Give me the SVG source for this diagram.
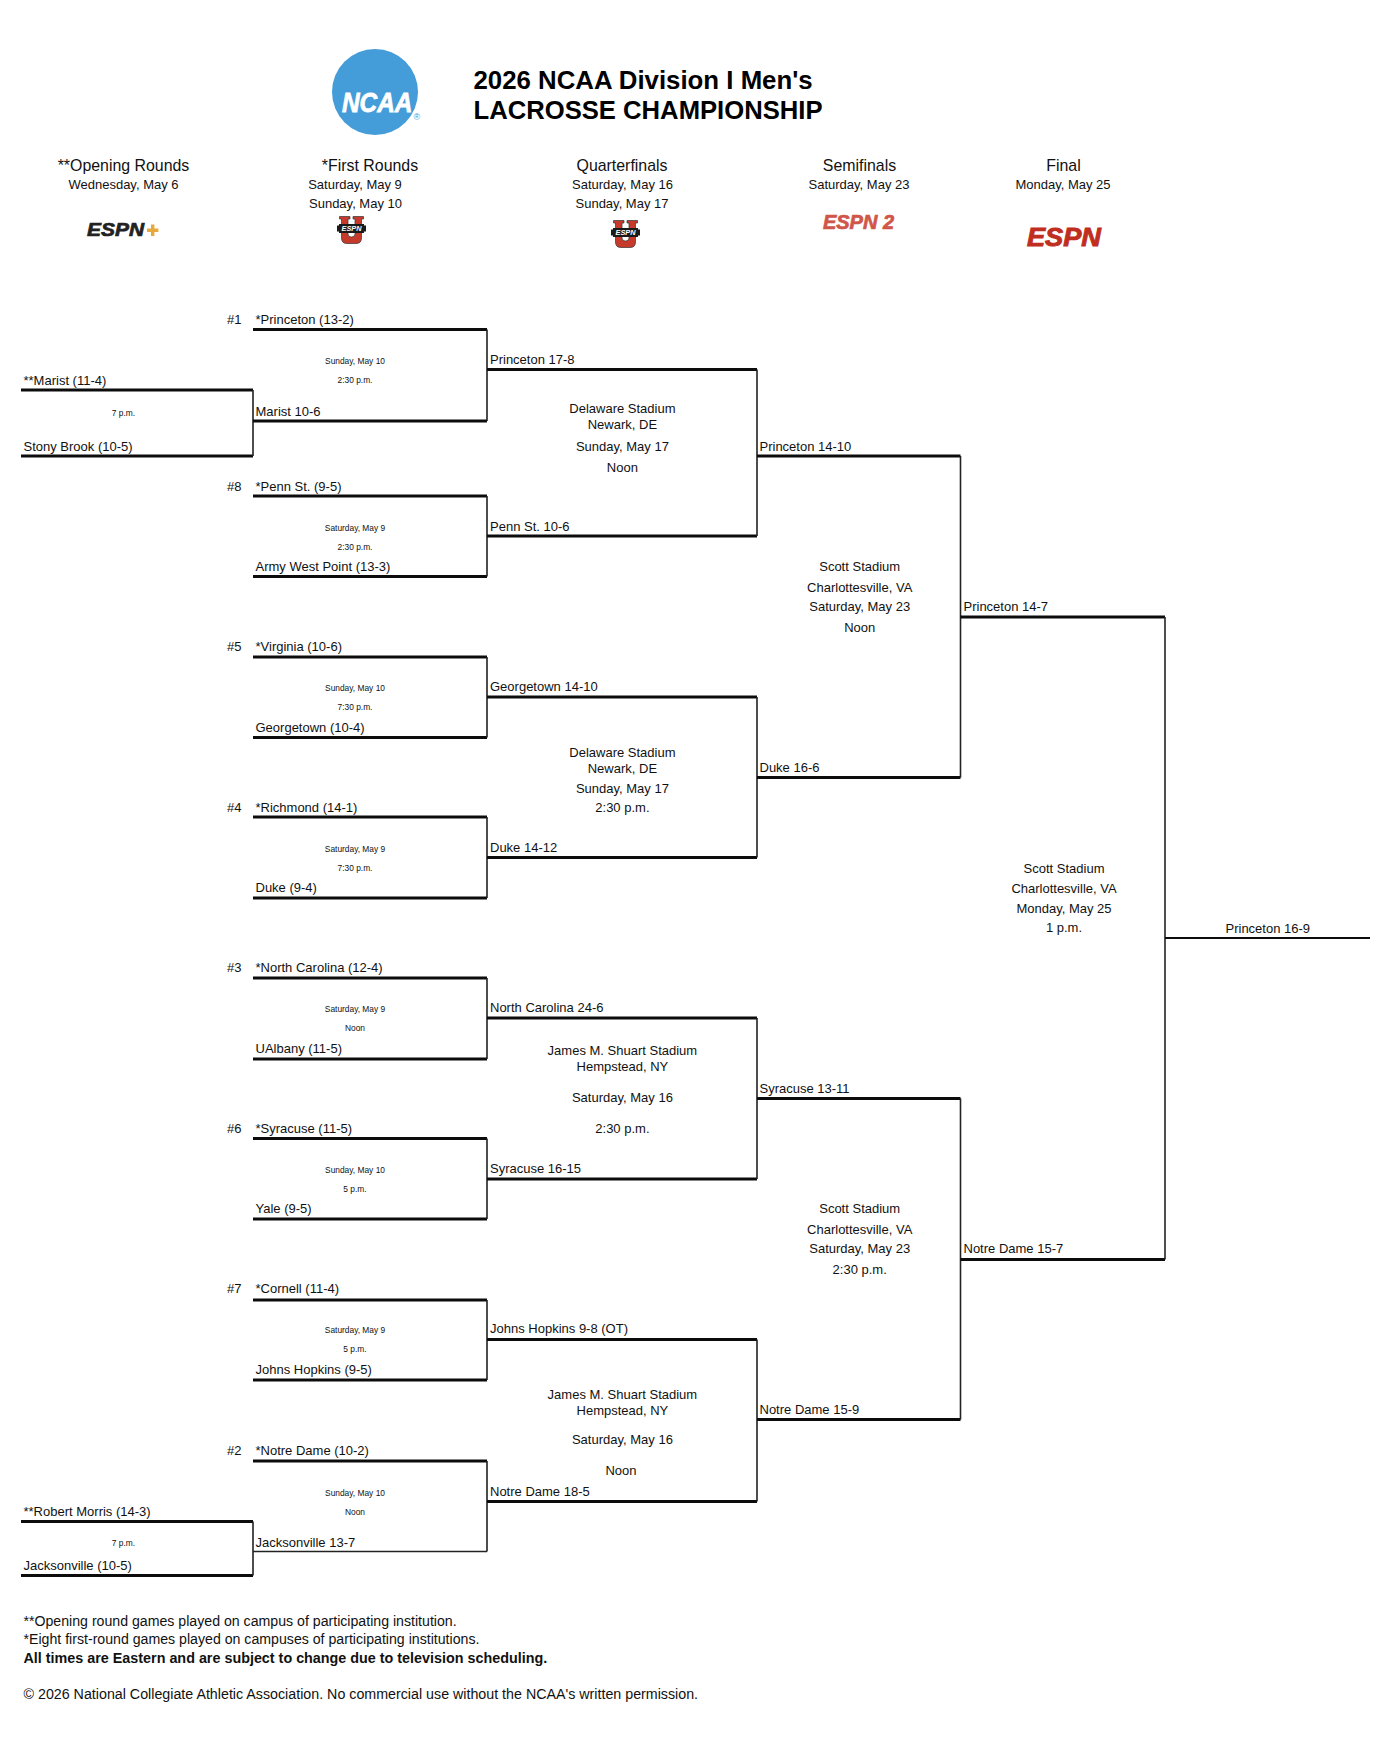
<svg xmlns="http://www.w3.org/2000/svg" width="1388" height="1754" viewBox="0 0 1388 1754">
<style>
text{font-family:"Liberation Sans",Arial,sans-serif;fill:#111}
.t{font-size:13px}
.f{font-size:14.25px}
.c{font-size:13px;text-anchor:middle}
.s{font-size:8.4px;text-anchor:middle}
.h{font-size:15.9px;text-anchor:middle}
.ti{font-size:25.8px;font-weight:bold;fill:#000}
.b{font-weight:bold}
.lg{font-weight:bold;font-style:italic}
.w{fill:none;stroke:#0c0c0c;stroke-width:2.8}
.v{fill:none;stroke:#222;stroke-width:1.6}
</style>
<defs>
<g id="espnu">
<path d="M2.5,0.5H13V3H11V18Q11,21 14.5,21Q18,21 18,18V3H16V0.5H26.5V3H24.5V22Q24.5,27.5 19,27.5H10Q4.5,27.5 4.5,22V3H2.5Z" fill="#C53A2A" stroke="#333" stroke-width="0.7"/>
<path d="M0,9.5H2V8H27V9.5H29V15.5H27V17H2V15.5H0Z" fill="#1a1a1a"/>
<text x="14.5" y="15" font-size="7" text-anchor="middle" class="lg" style="fill:#fff" textLength="20" lengthAdjust="spacingAndGlyphs">ESPN</text>
</g>
</defs>
<rect width="1388" height="1754" fill="#fff"/>

<g id="ncaa-logo">
<circle cx="375" cy="92" r="43" fill="#449CD9"/>
<text transform="translate(342,111.5) scale(1,1.14)" font-size="24.4" class="lg" style="fill:#fff;stroke:#fff;stroke-width:0.7">NCAA</text>
<text x="413.6" y="119.5" font-size="9" style="fill:#449CD9">®</text>
</g>
<g id="title">
<text x="473.5" y="88.5" class="ti">2026 NCAA Division I Men's</text>
<text x="473.5" y="118.5" class="ti" style="font-size:25.65px">LACROSSE CHAMPIONSHIP</text>
</g>

<g id="header-opening">
<text x="123.5" y="171" class="h">**Opening Rounds</text>
<text x="123.5" y="188.5" class="c">Wednesday, May 6</text>
<text x="87" y="236" font-size="19" class="lg" style="fill:#222;stroke:#222;stroke-width:0.7" textLength="57" lengthAdjust="spacingAndGlyphs">ESPN</text>
<path d="M151,224.5h3.4v4h4v3.4h-4v4h-3.4v-4h-4v-3.4h4z" fill="#E8A93C"/>
</g>
<g id="header-first">
<text x="370" y="171" class="h">*First Rounds</text>
<text x="355" y="188.5" class="c">Saturday, May 9</text>
<text x="355.5" y="207.5" class="c">Sunday, May 10</text>
<use href="#espnu" x="337" y="216"/>
</g>
<g id="header-quarter">
<text x="622" y="171" class="h">Quarterfinals</text>
<text x="622.5" y="188.5" class="c">Saturday, May 16</text>
<text x="622" y="207.5" class="c">Sunday, May 17</text>
<use href="#espnu" x="611" y="220"/>
</g>
<g id="header-semi">
<text x="859.5" y="171" class="h">Semifinals</text>
<text x="859" y="188.5" class="c">Saturday, May 23</text>
<text x="823" y="229" font-size="20" class="lg" style="fill:#D0564A;stroke:#D0564A;stroke-width:0.7" textLength="71" lengthAdjust="spacingAndGlyphs">ESPN 2</text>
</g>
<g id="header-final">
<text x="1063.5" y="171" class="h">Final</text>
<text x="1063" y="188.5" class="c">Monday, May 25</text>
<text x="1027" y="245.5" font-size="25" class="lg" style="fill:#BF2E1F;stroke:#BF2E1F;stroke-width:0.9" textLength="74" lengthAdjust="spacingAndGlyphs">ESPN</text>
</g>

<g id="connectors">
<path class="w" d="M21,390H253M21,456H253M21,1521.5H253M21,1575.5H253"/>
<path class="v" d="M253,390V456M253,1521.5V1575.5"/>
<path class="w" d="M253,329.5H487M253,421H487M253,496H487M253,576.5H487M253,657H487M253,737.5H487M253,817H487M253,898H487M253,978H487M253,1059H487M253,1138.5H487M253,1219H487M253,1300H487M253,1380H487M253,1461H487"/>
<path class="v" d="M253,1551.5H487M487,329.5V421M487,496V576.5M487,657V737.5M487,817V898M487,978V1059M487,1138.5V1219M487,1300V1380M487,1461V1551.5"/>
<path class="w" d="M487,369.5H757M487,536H757M487,697H757M487,857.5H757M487,1018H757M487,1179H757M487,1339.5H757M487,1501.5H757"/>
<path class="v" d="M757,369.5V536M757,697V857.5M757,1018V1179M757,1339.5V1501.5"/>
<path class="w" d="M757,456H960.5M757,777.5H960.5M757,1098.5H960.5M757,1419.5H960.5"/>
<path class="v" d="M960.5,456V777.5M960.5,1098.5V1419.5"/>
<path class="w" d="M960.5,617H1165M960.5,1259.5H1165"/>
<path class="v" d="M1165,617V1259.5"/>
<path class="w" d="M1165,938H1370" style="stroke-width:2"/>
</g>

<g id="opening-1">
<text x="23.5" y="385" class="t">**Marist (11-4)</text>
<text x="123.5" y="416" class="s">7 p.m.</text>
<text x="23.5" y="451" class="t">Stony Brook (10-5)</text>
</g>
<g id="opening-2">
<text x="23.5" y="1516" class="t">**Robert Morris (14-3)</text>
<text x="123.5" y="1546" class="s">7 p.m.</text>
<text x="23.5" y="1570" class="t">Jacksonville (10-5)</text>
</g>

<g id="first-1">
<text x="227" y="324" class="t">#1</text>
<text x="255.5" y="324" class="t">*Princeton (13-2)</text>
<text x="355" y="363.8" class="s">Sunday, May 10</text>
<text x="355" y="382.8" class="s">2:30 p.m.</text>
<text x="255.5" y="416" class="t">Marist 10-6</text>
</g>
<g id="first-2">
<text x="227" y="490.5" class="t">#8</text>
<text x="255.5" y="490.5" class="t">*Penn St. (9-5)</text>
<text x="355" y="531.4" class="s">Saturday, May 9</text>
<text x="355" y="550.4" class="s">2:30 p.m.</text>
<text x="255.5" y="571" class="t">Army West Point (13-3)</text>
</g>
<g id="first-3">
<text x="227" y="651" class="t">#5</text>
<text x="255.5" y="651" class="t">*Virginia (10-6)</text>
<text x="355" y="691.4" class="s">Sunday, May 10</text>
<text x="355" y="709.8" class="s">7:30 p.m.</text>
<text x="255.5" y="731.5" class="t">Georgetown (10-4)</text>
</g>
<g id="first-4">
<text x="227" y="811.5" class="t">#4</text>
<text x="255.5" y="811.5" class="t">*Richmond (14-1)</text>
<text x="355" y="851.8" class="s">Saturday, May 9</text>
<text x="355" y="870.9" class="s">7:30 p.m.</text>
<text x="255.5" y="892" class="t">Duke (9-4)</text>
</g>
<g id="first-5">
<text x="227" y="972" class="t">#3</text>
<text x="255.5" y="972" class="t">*North Carolina (12-4)</text>
<text x="355" y="1011.9" class="s">Saturday, May 9</text>
<text x="355" y="1030.9" class="s">Noon</text>
<text x="255.5" y="1053" class="t">UAlbany (11-5)</text>
</g>
<g id="first-6">
<text x="227" y="1132.5" class="t">#6</text>
<text x="255.5" y="1132.5" class="t">*Syracuse (11-5)</text>
<text x="355" y="1173.1" class="s">Sunday, May 10</text>
<text x="355" y="1192.2" class="s">5 p.m.</text>
<text x="255.5" y="1213" class="t">Yale (9-5)</text>
</g>
<g id="first-7">
<text x="227" y="1293" class="t">#7</text>
<text x="255.5" y="1293" class="t">*Cornell (11-4)</text>
<text x="355" y="1333.2" class="s">Saturday, May 9</text>
<text x="355" y="1352.2" class="s">5 p.m.</text>
<text x="255.5" y="1374" class="t">Johns Hopkins (9-5)</text>
</g>
<g id="first-8">
<text x="227" y="1455" class="t">#2</text>
<text x="255.5" y="1455" class="t">*Notre Dame (10-2)</text>
<text x="355" y="1495.8" class="s">Sunday, May 10</text>
<text x="355" y="1514.8" class="s">Noon</text>
<text x="255.5" y="1546.5" class="t">Jacksonville 13-7</text>
</g>

<g id="quarter-1">
<text x="490" y="363.5" class="t">Princeton 17-8</text>
<text x="622.4" y="413" class="c">Delaware Stadium</text>
<text x="622.4" y="429" class="c">Newark, DE</text>
<text x="622.4" y="451" class="c">Sunday, May 17</text>
<text x="622.4" y="472.4" class="c">Noon</text>
<text x="490" y="531" class="t">Penn St. 10-6</text>
</g>
<g id="quarter-2">
<text x="490" y="691" class="t">Georgetown 14-10</text>
<text x="622.4" y="756.9" class="c">Delaware Stadium</text>
<text x="622.4" y="772.5" class="c">Newark, DE</text>
<text x="622.4" y="792.7" class="c">Sunday, May 17</text>
<text x="622.4" y="811.7" class="c">2:30 p.m.</text>
<text x="490" y="851.5" class="t">Duke 14-12</text>
</g>
<g id="quarter-3">
<text x="490" y="1012" class="t">North Carolina 24-6</text>
<text x="622.4" y="1054.6" class="c">James M. Shuart Stadium</text>
<text x="622.4" y="1071.4" class="c">Hempstead, NY</text>
<text x="622.4" y="1101.6" class="c">Saturday, May 16</text>
<text x="622.4" y="1133" class="c">2:30 p.m.</text>
<text x="490" y="1173" class="t">Syracuse 16-15</text>
</g>
<g id="quarter-4">
<text x="490" y="1333" class="t">Johns Hopkins 9-8 (OT)</text>
<text x="622.4" y="1399.4" class="c">James M. Shuart Stadium</text>
<text x="622.4" y="1415" class="c">Hempstead, NY</text>
<text x="622.4" y="1444.2" class="c">Saturday, May 16</text>
<text x="621" y="1475" class="c">Noon</text>
<text x="490" y="1495.5" class="t">Notre Dame 18-5</text>
</g>

<g id="semi-1">
<text x="759.5" y="450.6" class="t">Princeton 14-10</text>
<text x="859.7" y="571" class="c">Scott Stadium</text>
<text x="859.7" y="592.2" class="c">Charlottesville, VA</text>
<text x="859.7" y="611.2" class="c">Saturday, May 23</text>
<text x="859.7" y="631.5" class="c">Noon</text>
<text x="759.5" y="772" class="t">Duke 16-6</text>
</g>
<g id="semi-2">
<text x="759.5" y="1093" class="t">Syracuse 13-11</text>
<text x="859.7" y="1213" class="c">Scott Stadium</text>
<text x="859.7" y="1233.5" class="c">Charlottesville, VA</text>
<text x="859.7" y="1252.8" class="c">Saturday, May 23</text>
<text x="859.7" y="1274" class="c">2:30 p.m.</text>
<text x="759.5" y="1414" class="t">Notre Dame 15-9</text>
</g>
<g id="final">
<text x="963.5" y="611" class="t">Princeton 14-7</text>
<text x="1064" y="873.2" class="c">Scott Stadium</text>
<text x="1064" y="893.3" class="c">Charlottesville, VA</text>
<text x="1064" y="912.5" class="c">Monday, May 25</text>
<text x="1064" y="931.5" class="c">1 p.m.</text>
<text x="963.5" y="1253" class="t">Notre Dame 15-7</text>
</g>
<g id="champion">
<text x="1225.5" y="933" class="t">Princeton 16-9</text>
</g>

<g id="footnotes">
<text x="23.5" y="1625.5" class="f" style="font-size:14.15px">**Opening round games played on campus of participating institution.</text>
<text x="23.5" y="1643.7" class="f" style="font-size:14.15px">*Eight first-round games played on campuses of participating institutions.</text>
<text x="23.5" y="1662.5" class="f b" style="font-size:14.35px">All times are Eastern and are subject to change due to television scheduling.</text>
<text x="23.5" y="1698.5" class="f">© 2026 National Collegiate Athletic Association. No commercial use without the NCAA's written permission.</text>
</g>
</svg>
